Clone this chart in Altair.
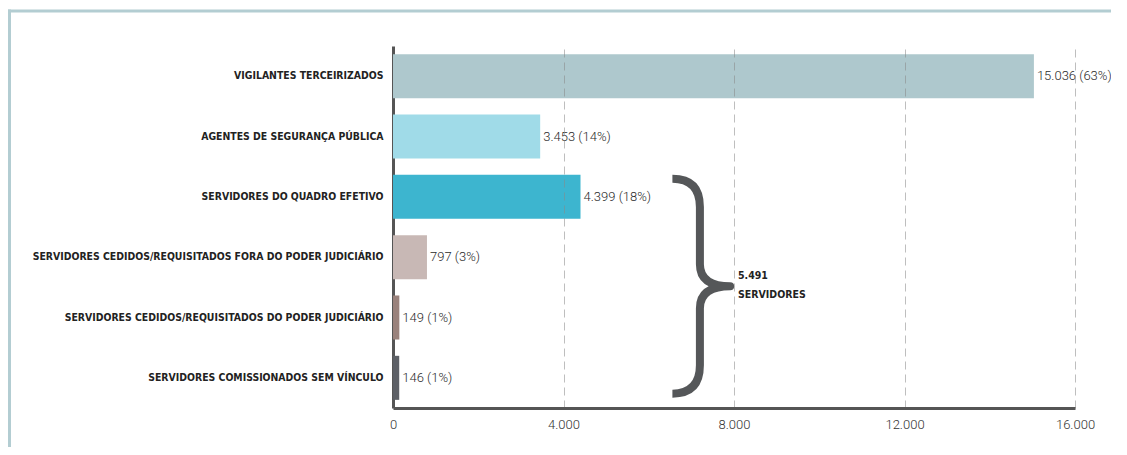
import altair as alt
import pandas as pd

categories = [
    "VIGILANTES TERCEIRIZADOS",
    "AGENTES DE SEGURANÇA PÚBLICA",
    "SERVIDORES DO QUADRO EFETIVO",
    "SERVIDORES CEDIDOS/REQUISITADOS FORA DO PODER JUDICIÁRIO",
    "SERVIDORES CEDIDOS/REQUISITADOS DO PODER JUDICIÁRIO",
    "SERVIDORES COMISSIONADOS SEM VÍNCULO",
]
values = [15036, 3453, 4399, 797, 149, 146]
percents = [63, 14, 18, 3, 1, 1]
colors = ["#aec8cd", "#a0dbe8", "#3db5cf", "#c8b8b5", "#9a827c", "#5d6066"]
x_ticks = [0, 4000, 8000, 12000, 16000]
brace_label = ["5.491", "SERVIDORES"]
brace_row = categories[3]
brace_x = 7226
brace_text_x = 8094


def fmt(v):
    return f"{v:,}".replace(",", ".")


labels = [f"{fmt(v)} ({p}%)" for v, p in zip(values, percents)]
df = pd.DataFrame({"cat": categories, "value": values, "label": labels})

W, H = 682, 362
BOLD = "DejaVu Sans Condensed, DejaVu Sans, sans-serif"
LIGHT = "Roboto, Open Sans, sans-serif"

y_enc = alt.Y(
    "cat:N",
    sort=categories,
    scale=alt.Scale(domain=categories, paddingInner=0.27, paddingOuter=0.135),
    axis=alt.Axis(
        title=None,
        ticks=False,
        domainColor="#555555",
        domainWidth=3,
        labelFont=BOLD,
        labelFontWeight="bold",
        labelFontSize=10.4,
        labelColor="#222222",
        labelPadding=10,
        labelLimit=400,
    ),
)
x_scale = alt.Scale(domain=[0, 16000], nice=False)

bars = alt.Chart(df).mark_bar().encode(
    y=y_enc,
    x=alt.X(
        "value:Q",
        scale=x_scale,
        axis=alt.Axis(
            title=None,
            values=x_ticks,
            ticks=False,
            grid=True,
            gridDash=[8, 5],
            gridColor="#888888",
            gridOpacity={"condition": {"test": "datum.value === 0", "value": 0}, "value": 0.55},
            domainColor="#555555",
            domainWidth=3,
            labelFont=LIGHT,
            labelFontWeight=300,
            labelFontSize=13,
            labelColor="#333333",
            labelPadding=10,
            labelFlush=False,
            labelExpr="replace(format(datum.value, ','), ',', '.')",
            zindex=1,
        ),
    ),
    color=alt.Color("cat:N", scale=alt.Scale(domain=categories, range=colors), legend=None),
)

texts = alt.Chart(df).mark_text(
    align="left", baseline="middle", dx=3, font=LIGHT, fontWeight=300, fontSize=13, color="#2a2a2a"
).encode(
    y=alt.Y("cat:N", sort=categories),
    x=alt.X("value:Q", scale=x_scale),
    text="label:N",
)

brace_path = (
    "M -0.26 -0.977 Q -0.01 -0.977 -0.01 -0.72 L -0.01 -0.2 "
    "Q -0.01 0 0.265 0 Q -0.01 0 -0.01 0.2 L -0.01 0.72 "
    "Q -0.01 0.977 -0.26 0.977"
)
brace_df = pd.DataFrame({"cat": [brace_row], "bx": [brace_x]})
brace = alt.Chart(brace_df).mark_point(
    shape=brace_path, size=48400, filled=False, strokeWidth=8, color="#555759",
    opacity=1, strokeJoin="round", yOffset=29,
).encode(y=alt.Y("cat:N", sort=categories), x=alt.X("bx:Q", scale=x_scale))

brace_txt_df = pd.DataFrame({"cat": [brace_row], "tx": [brace_text_x], "t": [brace_label]})
brace_text = alt.Chart(brace_txt_df).mark_text(
    align="left", baseline="middle", font=BOLD, fontWeight="bold", fontSize=10.5,
    color="#222222", lineHeight=19, yOffset=19,
).encode(y=alt.Y("cat:N", sort=categories), x=alt.X("tx:Q", scale=x_scale), text="t")

frame_df = pd.DataFrame({"k": [0]})
frame_top = alt.Chart(frame_df).mark_rule(color="#b3cdd2", strokeWidth=3).encode(
    x=alt.value(-385), x2=alt.value(W + 60), y=alt.value(-35)
)
frame_left = alt.Chart(frame_df).mark_rule(color="#b3cdd2", strokeWidth=3).encode(
    x=alt.value(-383.5), y=alt.value(-36.5), y2=alt.value(H + 60)
)

chart = alt.layer(bars, texts, brace, brace_text, frame_top, frame_left).properties(
    width=W,
    height=H,
    autosize=alt.AutoSizeParams(type="none"),
    padding={"left": 385, "top": 38, "right": 36, "bottom": 39},
).configure_view(stroke=None)

chart.save("out.html", embed_options={"renderer": "svg", "actions": False})
